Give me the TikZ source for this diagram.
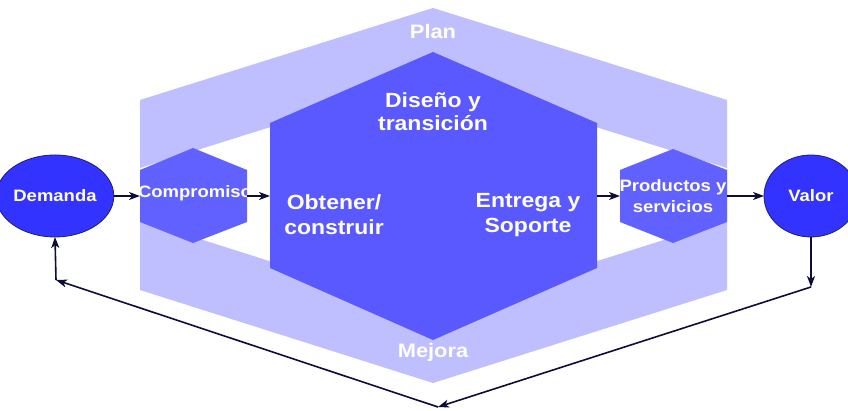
\documentclass[tikz,border=0pt]{standalone}
\usepackage{fontspec}
\newfontfamily\diagfont[FakeStretch=1.12]{Liberation Sans}
\usetikzlibrary{arrows.meta,shapes.geometric}

\begin{document}
\begin{tikzpicture}[x=1pt,y=1pt,
  labelText/.style={text=white,font=\diagfont\bfseries,align=center,inner sep=0pt,outer sep=0pt},
  endNode/.style={ellipse,draw=drawColor,line width=0.8pt,fill=fillColor,minimum width=94pt,minimum height=82pt,inner sep=0pt},
  flow/.style={draw=arrowColor,line width=1.6pt,-{Stealth[length=11pt,width=8pt,inset=3pt]}}]
\definecolor[named]{fillColor}{rgb}{1.00,1.00,1.00}
\path[use as bounding box,fill=fillColor] (0,0) rectangle (848,411);
\begin{scope}
\path[clip] (0,0) rectangle (848,411);
\definecolor[named]{fillColor}{rgb}{0.75,0.75,1.00}

% Plan / Mejora band
\path[fill=fillColor,even odd rule] (433.00,403.00) --
	(727.00,311.00) --
	(727.00,121.00) --
	(433.00, 28.00) --
	(140.00,121.00) --
	(140.00,311.00) --
	cycle
	(433.00,335.00) --
	(727.00,243.00) --
	(727.00,191.00) --
	(433.00, 98.00) --
	(140.00,191.00) --
	(140.00,243.00) --
	cycle;
\definecolor[named]{fillColor}{rgb}{0.35,0.35,1.00}

\path[fill=fillColor] (433.00,359.00) --
	(597.00,288.00) --
	(597.00,143.00) --
	(433.00, 71.00) --
	(270.00,143.00) --
	(270.00,288.00) --
	cycle;
\definecolor[named]{fillColor}{rgb}{0.38,0.38,1.00}

\path[fill=fillColor] (193.00,263.00) --
	(247.00,241.00) --
	(247.00,189.00) --
	(193.00,168.00) --
	(140.00,189.00) --
	(140.00,241.00) --
	cycle;

\path[fill=fillColor] (673.00,262.00) --
	(727.00,241.00) --
	(727.00,189.00) --
	(673.00,168.00) --
	(620.00,189.00) --
	(620.00,241.00) --
	cycle;
\end{scope}
\begin{scope}
\path[clip] (0,0) rectangle (848,411);
\coordinate (compW) at (140.00,215.00);
\coordinate (compE) at (247.00,215.00);
\coordinate (hexW) at (270.00,215.00);
\coordinate (hexE) at (597.00,215.00);
\coordinate (prodW) at (620.00,215.00);
\coordinate (prodE) at (727.00,215.00);
\coordinate (loopR) at (811.00,124.00);
\coordinate (loopB) at (438.00,  4.00);
\coordinate (loopL) at ( 56.00,131.00);

\node[labelText,font=\diagfont\bfseries\fontsize{19.5}{24}\selectfont] (plan) at (433.00,379.00) {Plan};

\node[labelText,font=\diagfont\bfseries\fontsize{19.5}{24}\selectfont] (mejora) at (433.00, 59.00) {Mejora};

\node[labelText,font=\diagfont\bfseries\fontsize{20.5}{23}\selectfont] (diseno) at (433.00,299.00) {Diseño y\\transición};

\node[labelText,font=\diagfont\bfseries\fontsize{20.5}{25}\selectfont] (obtener) at (334.00,196.00) {Obtener/\\construir};

\node[labelText,font=\diagfont\bfseries\fontsize{20.5}{25}\selectfont] (entrega) at (528.00,196.00) {Entrega y\\Soporte};

\node[labelText,font=\diagfont\bfseries\fontsize{16.5}{20}\selectfont] (compromiso) at (195.00,218.00) {Compromiso};

\node[labelText,font=\diagfont\bfseries\fontsize{16.5}{21}\selectfont] (productos) at (673.00,215.00) {Productos y\\servicios};
\definecolor[named]{drawColor}{rgb}{0.12,0.12,0.45}
\definecolor[named]{fillColor}{rgb}{0.20,0.20,1.00}

\node[endNode,labelText,font=\diagfont\bfseries\fontsize{16.5}{20}\selectfont] (demanda) at ( 55.00,215.00) {Demanda};

\node[endNode,labelText,font=\diagfont\bfseries\fontsize{16.5}{20}\selectfont] (valor) at (811.00,215.00) {Valor};
\definecolor[named]{arrowColor}{rgb}{0.05,0.05,0.22}

\draw[flow] (demanda.east) -- (compW);
\draw[flow] (compE) -- (hexW);
\draw[flow] (hexE) -- (prodW);
\draw[flow] (prodE) -- (valor.west);
\draw[flow] (valor.south) -- (loopR);
\draw[flow] (loopR) -- (loopB);
\draw[flow] (loopB) -- (loopL);
\draw[flow] (loopL) -- (demanda.south);
\end{scope}
\end{tikzpicture}
\end{document}
